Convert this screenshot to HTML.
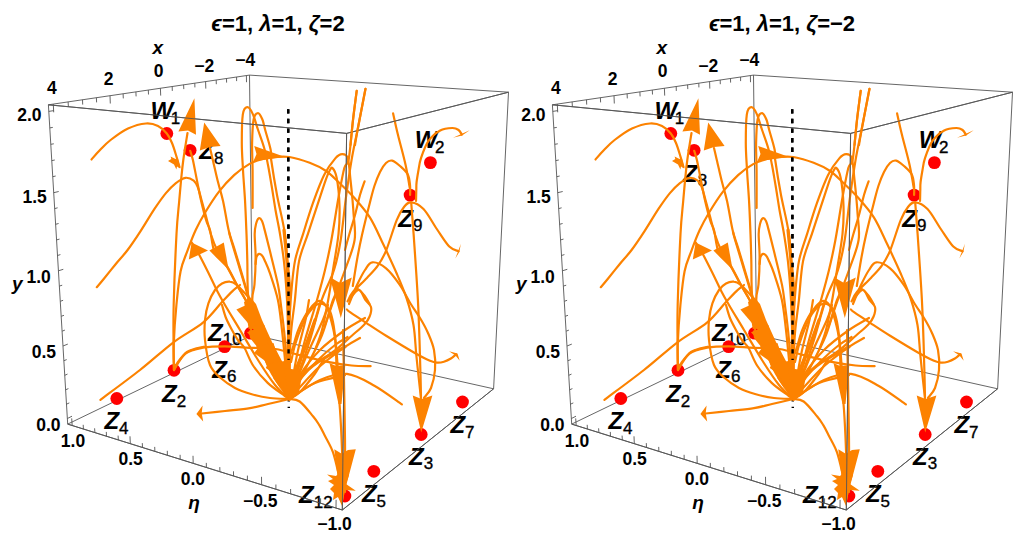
<!DOCTYPE html>
<html><head><meta charset="utf-8"><style>
html,body{margin:0;padding:0;background:#fff;}
svg{display:block;}
.e{stroke:#555;stroke-width:0.9;}
.t{stroke:#555;stroke-width:0.9;}
text{font-family:"Liberation Sans",sans-serif;fill:#000;}
.tl{font-size:17.5px;font-weight:bold;text-anchor:middle;}
.tr{font-size:17.5px;font-weight:bold;text-anchor:end;}
.al{font-size:19px;font-weight:bold;font-style:italic;text-anchor:middle;}
.ti{font-size:22px;font-weight:bold;text-anchor:middle;}
.o{fill:none;stroke:#FC8200;stroke-width:2.2;stroke-linecap:round;stroke-linejoin:round;}
.ah{fill:#FC8200;}
.rd{fill:#FF0000;}
.dash{stroke:#000;stroke-width:2.4;stroke-dasharray:4.4 5.2;}
.pl{font-size:24px;font-weight:bold;font-style:italic;}
.ps{font-size:17px;font-style:normal;font-weight:normal;stroke:#000;stroke-width:0.35px;}
</style></head><body>
<svg width="1024" height="539" viewBox="0 0 1024 539">
<g>
<line x1="48.4" y1="104.8" x2="249.5" y2="75.1" class="e"/>
<line x1="249.5" y1="75.1" x2="508.5" y2="92.2" class="e"/>
<line x1="508.5" y1="92.2" x2="346.6" y2="133.4" class="e"/>
<line x1="346.6" y1="133.4" x2="48.4" y2="104.8" class="e"/>
<line x1="48.4" y1="104.8" x2="67.7" y2="424.1" class="e"/>
<line x1="249.5" y1="75.1" x2="252.6" y2="334.9" class="e"/>
<line x1="508.5" y1="92.2" x2="493.6" y2="388.8" class="e"/>
<line x1="346.6" y1="133.4" x2="342.3" y2="510" class="e"/>
<line x1="67.7" y1="424.1" x2="342.3" y2="510" class="e"/>
<line x1="342.3" y1="510" x2="493.6" y2="388.8" class="e"/>
<line x1="493.6" y1="388.8" x2="252.6" y2="334.9" class="e"/>
<line x1="252.6" y1="334.9" x2="67.7" y2="424.1" class="e"/>
<line x1="53.3" y1="104.1" x2="53.7" y2="112.3" class="t"/>
<line x1="68.1" y1="101.9" x2="68.4" y2="106.8" class="t"/>
<line x1="82.5" y1="99.8" x2="82.7" y2="104.6" class="t"/>
<line x1="96.4" y1="97.7" x2="96.6" y2="102.4" class="t"/>
<line x1="110" y1="95.7" x2="110.3" y2="103.5" class="t"/>
<line x1="123.1" y1="93.8" x2="123.3" y2="98.4" class="t"/>
<line x1="135.9" y1="91.9" x2="136.1" y2="96.4" class="t"/>
<line x1="148.3" y1="90" x2="148.5" y2="94.5" class="t"/>
<line x1="160.4" y1="88.2" x2="160.7" y2="95.6" class="t"/>
<line x1="172.2" y1="86.5" x2="172.3" y2="90.9" class="t"/>
<line x1="183.6" y1="84.8" x2="183.8" y2="89.1" class="t"/>
<line x1="194.8" y1="83.2" x2="194.9" y2="87.4" class="t"/>
<line x1="205.6" y1="81.6" x2="205.8" y2="88.6" class="t"/>
<line x1="216.2" y1="80" x2="216.3" y2="84.2" class="t"/>
<line x1="226.5" y1="78.5" x2="226.6" y2="82.6" class="t"/>
<line x1="236.6" y1="77" x2="236.6" y2="81.1" class="t"/>
<line x1="246.4" y1="75.6" x2="246.5" y2="82.2" class="t"/>
<line x1="67.4" y1="418.5" x2="72" y2="416.2" class="t"/>
<line x1="66.5" y1="404.2" x2="69.3" y2="402.9" class="t"/>
<line x1="65.6" y1="389.8" x2="68.4" y2="388.6" class="t"/>
<line x1="64.8" y1="375.3" x2="67.5" y2="374.1" class="t"/>
<line x1="63.9" y1="360.7" x2="66.7" y2="359.6" class="t"/>
<line x1="63" y1="346" x2="67.8" y2="344.1" class="t"/>
<line x1="62.1" y1="331.2" x2="64.9" y2="330.1" class="t"/>
<line x1="61.2" y1="316.3" x2="64" y2="315.3" class="t"/>
<line x1="60.3" y1="301.3" x2="63.1" y2="300.3" class="t"/>
<line x1="59.4" y1="286.1" x2="62.2" y2="285.2" class="t"/>
<line x1="58.4" y1="270.8" x2="63.3" y2="269.3" class="t"/>
<line x1="57.5" y1="255.5" x2="60.4" y2="254.6" class="t"/>
<line x1="56.6" y1="239.9" x2="59.5" y2="239.1" class="t"/>
<line x1="55.6" y1="224.3" x2="58.6" y2="223.5" class="t"/>
<line x1="54.7" y1="208.6" x2="57.6" y2="207.8" class="t"/>
<line x1="53.7" y1="192.7" x2="58.7" y2="191.5" class="t"/>
<line x1="52.8" y1="176.7" x2="55.7" y2="176" class="t"/>
<line x1="51.8" y1="160.6" x2="54.8" y2="160" class="t"/>
<line x1="50.8" y1="144.3" x2="53.8" y2="143.8" class="t"/>
<line x1="49.8" y1="127.9" x2="52.8" y2="127.4" class="t"/>
<line x1="48.8" y1="111.4" x2="53.9" y2="110.6" class="t"/>
<line x1="72.2" y1="425.5" x2="71.7" y2="418.4" class="t"/>
<line x1="83.4" y1="429.1" x2="83.2" y2="424.8" class="t"/>
<line x1="94.9" y1="432.6" x2="94.6" y2="428.3" class="t"/>
<line x1="106.5" y1="436.3" x2="106.3" y2="431.9" class="t"/>
<line x1="118.3" y1="440" x2="118.1" y2="435.6" class="t"/>
<line x1="130.3" y1="443.7" x2="130" y2="436.3" class="t"/>
<line x1="142.5" y1="447.5" x2="142.3" y2="443.1" class="t"/>
<line x1="154.9" y1="451.4" x2="154.7" y2="446.9" class="t"/>
<line x1="167.4" y1="455.3" x2="167.3" y2="450.8" class="t"/>
<line x1="180.2" y1="459.3" x2="180.1" y2="454.8" class="t"/>
<line x1="193.2" y1="463.4" x2="193" y2="455.8" class="t"/>
<line x1="206.4" y1="467.5" x2="206.3" y2="462.9" class="t"/>
<line x1="219.9" y1="471.7" x2="219.8" y2="467.1" class="t"/>
<line x1="233.5" y1="476" x2="233.5" y2="471.3" class="t"/>
<line x1="247.4" y1="480.3" x2="247.4" y2="475.6" class="t"/>
<line x1="261.6" y1="484.8" x2="261.5" y2="476.8" class="t"/>
<line x1="275.9" y1="489.3" x2="275.9" y2="484.5" class="t"/>
<line x1="290.6" y1="493.8" x2="290.6" y2="489" class="t"/>
<line x1="305.5" y1="498.5" x2="305.5" y2="493.6" class="t"/>
<line x1="320.6" y1="503.2" x2="320.6" y2="498.3" class="t"/>
<line x1="336" y1="508" x2="336.1" y2="499.8" class="t"/>
<text x="51.8" y="93.8" class="tl">4</text>
<text x="108.7" y="85.2" class="tl">2</text>
<text x="158.6" y="77.4" class="tl">0</text>
<text x="204.3" y="71.6" class="tl">−2</text>
<text x="245.2" y="65.8" class="tl">−4</text>
<text x="157.7" y="54.3" class="al">x</text>
<text x="41.5" y="121" class="tr">2.0</text>
<text x="46.8" y="202.7" class="tr">1.5</text>
<text x="50.8" y="282.5" class="tr">1.0</text>
<text x="56.1" y="357.6" class="tr">0.5</text>
<text x="60.6" y="431.4" class="tr">0.0</text>
<text x="17.2" y="290" class="al">y</text>
<text x="73" y="447.2" class="tl">1.0</text>
<text x="130.6" y="465.4" class="tl">0.5</text>
<text x="192.9" y="485.2" class="tl">0.0</text>
<text x="260.2" y="506.7" class="tl">−0.5</text>
<text x="334.5" y="529.7" class="tl">−1.0</text>
<text x="194" y="509" class="al">η</text>
<text x="150.6" y="119.2" class="pl">W<tspan class="ps" dy="4.4" dx="-2.5">1</tspan></text>
<text x="162.1" y="402.3" class="pl">Z<tspan class="ps" dy="4.4">2</tspan></text>
<text x="104.4" y="429.3" class="pl">Z<tspan class="ps" dy="4.4">4</tspan></text>
<text x="208.1" y="340.8" class="pl">Z<tspan class="ps" dy="4.4">10</tspan></text>
<text x="212.3" y="377.7" class="pl">Z<tspan class="ps" dy="4.4">6</tspan></text>
<text x="414.8" y="148.3" class="pl">W<tspan class="ps" dy="4.4" dx="-2.5">2</tspan></text>
<text x="398.3" y="226.7" class="pl">Z<tspan class="ps" dy="4.4">9</tspan></text>
<text x="409.1" y="464.9" class="pl">Z<tspan class="ps" dy="4.4">3</tspan></text>
<text x="450.4" y="433.4" class="pl">Z<tspan class="ps" dy="4.4">7</tspan></text>
<text x="361.9" y="502.3" class="pl">Z<tspan class="ps" dy="4.4">5</tspan></text>
<text x="299" y="503.3" class="pl">Z<tspan class="ps" dy="4.4">12</tspan></text>
<text x="199.3" y="159.2" class="pl">Z<tspan class="ps" dy="4.4">8</tspan></text>
<circle cx="166.8" cy="133.5" r="6.4" class="rd"/>
<circle cx="190.1" cy="150.3" r="6.4" class="rd"/>
<circle cx="174" cy="370.3" r="6.4" class="rd"/>
<circle cx="116.8" cy="398.5" r="6.4" class="rd"/>
<circle cx="224.6" cy="346.7" r="6.4" class="rd"/>
<circle cx="250.6" cy="333.2" r="6.4" class="rd"/>
<circle cx="410.1" cy="195.1" r="6.4" class="rd"/>
<circle cx="430.4" cy="162.6" r="6.4" class="rd"/>
<circle cx="421.2" cy="434.5" r="6.4" class="rd"/>
<circle cx="462.5" cy="402" r="6.4" class="rd"/>
<circle cx="373.8" cy="471.3" r="6.4" class="rd"/>
<circle cx="344.9" cy="496" r="6.4" class="rd"/>
<line x1="288.2" y1="109.2" x2="288.8" y2="408" class="dash"/>
<path d="M91.5,159.5 C92.9,157.9 96.8,153.2 100,150 C103.2,146.8 105.9,143.6 110.6,140 C115.3,136.4 122.1,131.2 128,128.5 C133.9,125.8 141,123.9 146,123.5 C151,123.1 154.5,124.3 158,126 C161.5,127.7 164.5,130.7 166.8,133.5 C169.1,136.3 170.5,139.4 172,143 C173.5,146.6 174.8,151 176,155 C177.2,159 178.9,165 179.5,167" class="o"/>
<path d="M174,370 C173.9,366 173.7,357 173.6,346 C173.5,335 173.2,322.7 173.7,304 C174.2,285.3 175.6,251.1 176.5,234 C177.4,216.9 178.4,210.6 179.2,201.2 C180,191.8 180.6,184.7 181.3,177.8 C182,170.9 182.3,167.5 183.3,160 C184.3,152.5 186.8,137.5 187.5,133" class="o"/>
<path d="M96.8,287.2 C97.9,285.9 100.3,283.2 103.3,279.5 C106.3,275.8 111,269.9 115,265 C119,260.1 123.3,255.7 127.6,250 C131.9,244.3 136.4,237.5 140.9,230.6 C145.4,223.7 150.6,214.7 154.8,208.4 C159,202.2 162.4,197.3 165.9,193.1 C169.4,188.9 172.3,185.9 175.6,183.3 C178.8,180.8 182.4,178.2 185.4,177.8 C188.4,177.4 191.6,179 193.7,180.6 C195.8,182.2 196.6,184.3 197.9,187.5 C199.2,190.7 200,194.8 201.5,200 C203,205.2 205.1,213.3 206.7,219 C208.2,224.7 209.1,228.8 210.8,234 C212.5,239.2 214.5,244.8 217,250 C219.5,255.2 222.7,259.2 226,265 C229.3,270.8 233.4,278.5 237,285 C240.6,291.5 244.3,297.3 247.8,304 C251.3,310.7 254.6,317.3 258,325 C261.4,332.7 264.3,340.8 268,350 C271.7,359.2 276.4,371.8 280,380 C283.6,388.2 287.8,395.8 289.4,399" class="o"/>
<path d="M190.2,150.8 C190.6,152.3 191.8,155 192.9,160 C194,165 195.6,173.7 197,180.6 C198.4,187.5 199.6,194.3 201.2,201.2 C202.8,208.1 205.2,217.2 206.7,222 C208.2,226.8 208.6,224.8 210,230 C211.4,235.2 212.2,247.6 214.9,253.3 C217.6,259 222.2,259 225.9,264.3 C229.6,269.6 233.2,278.3 236.9,284.9 C240.6,291.5 244,296.5 247.8,304 C251.7,311.5 256,321 260,330 C264,339 268.2,348.3 272,358 C275.8,367.7 280.1,381.2 283,388 C285.9,394.8 288.3,397.2 289.4,399" class="o"/>
<path d="M210,148 C210.5,150 211.5,154.6 212.8,160 C214.1,165.4 215.9,173.7 217.6,180.6 C219.3,187.5 221.3,193 223.1,201.2 C224.9,209.4 226.8,222.2 228.6,230 C230.4,237.8 231.8,240.2 234.1,247.8 C236.4,255.4 239.8,266.8 242.3,275.3 C244.8,283.8 246.6,290.3 249.2,298.6 C251.8,306.9 254.9,316.1 258,325 C261.1,333.9 264.3,342.8 268,352 C271.7,361.2 276.4,372.2 280,380 C283.6,387.8 287.8,395.8 289.4,399" class="o"/>
<path d="M174,370 C173.9,365.8 173.3,356 173.7,345 C174.1,334 175.3,316.3 176.5,304 C177.7,291.7 178.8,280.1 180.6,271.2 C182.4,262.3 185,257.5 187.5,250.6 C190,243.7 192.7,236.4 195.7,230 C198.7,223.6 201.4,218.6 205.3,212.2 C209.2,205.8 214.2,197.8 219,191.6 C223.8,185.4 229.1,179.7 234.1,175.1 C239.1,170.5 244.4,166.8 249.2,164.1 C254,161.4 258.7,160.2 263,159 C267.3,157.8 270.6,157.3 275,157 C279.4,156.7 283.6,156 289.4,157 C295.2,158 303.6,160.5 309.7,162.8 C315.8,165.1 321.1,167.6 326.1,171 C331.1,174.4 335.2,179 339.8,183.3 C344.4,187.7 348.5,191.4 353.5,197.1 C358.5,202.8 365,209.7 370,217.6 C375,225.5 378.9,235.3 383.4,244.6 C387.8,253.9 392.8,264.5 396.7,273.5 C400.6,282.5 403.9,290 406.7,298.6 C409.5,307.2 411.9,315.6 413.5,325 C415.1,334.4 415.3,344.7 416.3,354.9 C417.3,365.1 418.8,378.8 419.6,386 C420.4,393.2 420.8,396 421,398" class="o"/>
<path d="M191.6,242.4 C192.7,244.2 195.7,248.4 198.4,253.3 C201.1,258.2 204.8,265.6 208,272 C211.2,278.4 214.8,286.3 217.6,291.8 C220.4,297.3 221.3,298.6 225,305 C228.7,311.4 234.5,320.8 240,330 C245.5,339.2 252.2,350.8 258,360 C263.8,369.2 269.8,378.5 275,385 C280.2,391.5 287,396.7 289.4,399" class="o"/>
<path d="M289.4,399 C286.2,394.2 275.7,381.5 270,370 C264.3,358.5 258.6,341.7 255,330 C251.4,318.3 249.7,311.7 248.4,300 C247.1,288.3 247.6,271 247.3,260 C247,249 246.9,244 246.5,234 C246.1,224 245.6,210.7 245,200 C244.4,189.3 243.5,179.5 243,170 C242.5,160.5 241.8,152.2 241.8,143 C241.8,133.8 241.9,120.6 242.8,114.6 C243.7,108.6 245.6,107.4 247.2,107.2 C248.8,107 250.8,109.8 252.6,113.6 C254.4,117.4 256.1,124.1 258.1,130 C260.1,135.9 262.8,142.9 264.4,148.8 C266,154.6 266.8,159 268,165 C269.2,171 270.2,177.5 271.5,185 C272.8,192.5 274.1,201.8 275.5,210 C276.9,218.2 278.6,225.3 280,234 C281.4,242.7 282.8,251 284,262 C285.2,273 286.2,285.3 287,300 C287.8,314.7 288.1,333.5 288.5,350 C288.9,366.5 289.2,390.8 289.4,399" class="o"/>
<path d="M252.6,208 C252.6,201.7 252.7,180.8 252.6,170 C252.5,159.2 251.9,151.4 252.1,143 C252.3,134.6 252.6,124.5 253.6,119.5 C254.6,114.5 256.5,113.1 258,113.1 C259.5,113.1 261.2,116.7 262.4,119.5 C263.6,122.3 263.8,125 265.2,130 C266.6,135 269.6,144.5 270.6,149.5 C271.6,154.5 270.1,152.4 271.2,160 C272.3,167.6 274.7,182.7 277,195 C279.3,207.3 283.2,221.5 284.9,234 C286.6,246.5 286.4,254 287,270 C287.6,286 288.1,308.5 288.5,330 C288.9,351.5 289.2,387.5 289.4,399" class="o"/>
<path d="M289.4,399 C285.8,393.3 273.6,376.5 268,365 C262.4,353.5 258.6,340.8 256,330 C253.4,319.2 252.6,307.6 252.3,300 C252.1,292.4 253.9,291.7 254.5,284.5 C255.1,277.3 255.6,265.1 255.6,256.7 C255.6,248.3 254.6,239.4 254.7,234 C254.8,228.6 255.3,226.6 256,224 C256.7,221.4 257.8,218.8 258.8,218.3 C259.8,217.8 261.1,219.3 262,221 C262.9,222.7 263,223.7 264.3,228.6 C265.6,233.5 267.5,241.2 269.8,250.6 C272.1,260 276.2,276 278,284.9 C279.8,293.8 279.6,294.8 280.8,304 C282,313.2 283.6,324.2 285,340 C286.4,355.8 288.7,389.2 289.4,399" class="o"/>
<path d="M255.6,264 C255.8,262.8 255.9,258.7 256.5,257 C257.1,255.3 258.1,254.2 259,253.9 C259.9,253.7 261.1,254.5 262,255.5 C262.9,256.5 263.2,257 264.5,260 C265.8,263 267.8,266.7 270,273.4 C272.2,280.1 275.9,290.6 277.9,300 C279.9,309.4 280.6,318.3 282,330 C283.4,341.7 284.8,358.5 286,370 C287.2,381.5 288.8,394.2 289.4,399" class="o"/>
<path d="M289.4,399 C286.2,398.8 276.4,398.8 270,398 C263.6,397.2 256.8,395.7 251,394 C245.2,392.3 240.1,390.7 235,388 C229.9,385.3 224.6,381.6 220.4,377.8 C216.2,374 212.6,371.3 210,365 C207.4,358.7 205.8,347.5 205,340 C204.2,332.5 204.4,326.1 205,320 C205.6,313.9 206.7,308.4 208.4,303.4 C210.1,298.4 212.7,293.3 215,290 C217.3,286.7 219.5,284.9 222,283.5 C224.5,282.1 227.5,281.4 230,281.7 C232.5,281.9 234.6,283.3 236.8,285 C239.1,286.7 241.3,289.2 243.5,291.7 C245.7,294.2 247.6,295.3 250,300 C252.4,304.7 254.3,311.7 258,320 C261.7,328.3 267.8,340 272,350 C276.2,360 280.1,371.8 283,380 C285.9,388.2 288.3,395.8 289.4,399" class="o"/>
<path d="M356.7,90.8 C356.1,95.7 354.3,108.7 353,120 C351.7,131.3 350.2,150.7 348.8,158.7 C347.4,166.7 346.1,161.6 344.4,167.8 C342.7,174 341,183.7 338.8,195.7 C336.6,207.7 333.7,227.6 331.4,240 C329.1,252.4 327.4,260 325,270 C322.6,280 320.3,288.3 317,300 C313.7,311.7 308.7,326.7 305,340 C301.3,353.3 297.6,370.2 295,380 C292.4,389.8 290.3,395.8 289.4,399" class="o"/>
<path d="M365.5,88.8 C364.2,95.5 360,117.6 357.7,129.2 C355.4,140.8 353.7,147.5 351.8,158.6 C349.9,169.7 348.1,182.1 346.2,195.7 C344.3,209.3 342.7,227.6 340.7,240 C338.7,252.4 337.2,260 334,270 C330.8,280 325.7,288.3 321.7,300 C317.7,311.7 313.9,327.5 310,340 C306.1,352.5 301.4,365.2 298,375 C294.6,384.8 290.8,395 289.4,399" class="o"/>
<path d="M347.6,301.4 C348.5,299.8 349.9,295.7 353.1,291.8 C356.3,287.9 362.8,282.4 366.9,278 C371,273.6 374.6,270.3 377.8,265.7 C381,261.1 383,258.2 386.1,250.6 C389.2,243 393.7,227.4 396.7,220.1 C399.7,212.8 401.6,210 404,207 C406.4,204 407.9,202 411.2,202.3 C414.4,202.6 419.2,204.6 423.5,209 C427.8,213.4 432.5,222.7 436.8,229 C441.1,235.3 445.7,242.9 449.3,246.6 C452.9,250.3 457,250.4 458.5,251.2" class="o"/>
<path d="M411.2,202.3 C411.8,209.7 413.4,230.5 414.5,246.8 C415.6,263.1 417.1,284.5 417.9,300 C418.7,315.5 419.1,327.5 419.5,340 C419.9,352.5 420.2,365.3 420.5,375 C420.8,384.7 420.9,394.2 421,398" class="o"/>
<path d="M393.1,113.4 C393.9,117 395.9,126.4 398,135 C400.1,143.6 403.6,155.8 405.6,165 C407.6,174.2 409.4,185.8 410.1,190" class="o"/>
<path d="M416,201 C416.1,199.2 416.2,193.2 416.3,190 C416.4,186.8 416.2,185.3 416.6,182 C417,178.7 417.8,174 418.5,170 C419.2,166 419.4,163 421,158.2 C422.6,153.4 425,145.9 428.2,141.3 C431.4,136.7 436.2,132.7 440.2,130.5 C444.2,128.3 449.2,128.1 452.3,128 C455.4,127.9 457,128.9 458.6,130 C460.2,131.1 461.3,133.8 461.8,134.5" class="o"/>
<path d="M289.4,399 C285.8,399.8 274.6,402.5 268,404 C261.4,405.5 257.2,407 250,408.2 C242.8,409.4 233.1,410.1 225,411 C216.9,411.9 205.6,413.1 201.7,413.5" class="o"/>
<path d="M174,370 C175.9,367.3 180.6,357.3 185.4,353.6 C190.2,349.9 196.6,348.9 203.1,347.7 C209.6,346.5 216.9,346.3 224.7,346.3 C232.5,346.3 241.6,347.4 250,347.8 C258.4,348.2 266.9,347.7 275.4,349 C283.9,350.3 292.3,353.3 300.8,355.4 C309.3,357.5 317.7,360 326.2,361.7 C334.7,363.4 344.2,364.8 351.6,365.5 C359,366.2 367.4,366.1 370.6,366.2" class="o"/>
<path d="M100.4,399.8 C107,394.8 127.8,379.6 140,370 C152.2,360.4 163,350.2 173.5,342.3 C184,334.4 194.9,329.3 203,322.6 C211.1,315.9 217.1,307.2 222,302 C226.9,296.8 229.5,293.9 232.5,291.1 C235.5,288.3 238.8,286 240,285" class="o"/>
<path d="M229,232 C229.3,233.3 229.6,234.9 231.1,240 C232.6,245.1 235.6,254.9 237.8,262.3 C240,269.7 242.6,278.2 244.5,284.5 C246.4,290.8 246.8,292.4 249,300 C251.2,307.6 254.2,320 258,330 C261.8,340 266.8,348.5 272,360 C277.2,371.5 286.5,392.5 289.4,399" class="o"/>
<path d="M289.4,399 C291.1,399.4 295.7,398.6 299.7,401.5 C303.7,404.4 309.9,412.6 313.2,416.5 C316.5,420.4 317.3,421.9 319.3,425.1 C321.3,428.4 322.7,431.4 325,436 C327.3,440.6 330.8,445.9 333.1,452.6 C335.4,459.3 337.5,469.4 339,476 C340.5,482.6 341.5,489.3 342,492" class="o"/>
<path d="M349,300 C350.6,298.3 355.9,289.8 358.7,289.8 C361.4,289.8 363.4,297.1 365.5,300 C367.6,302.9 370.3,304.1 371,306.9 C371.7,309.6 370.8,313.5 369.6,316.5 C368.5,319.5 367.1,321.5 364.1,324.7 C361.1,327.9 356.2,331.8 351.8,335.7 C347.4,339.6 342.6,344.1 338,348 C333.4,351.9 328.2,354.7 324.3,359 C320.4,363.3 318.8,368.5 314.7,374 C310.6,379.5 304.2,387.8 300,392 C295.8,396.2 291.2,397.8 289.4,399" class="o"/>
<path d="M346.9,309.5 C347.5,310 347.1,310.1 350.4,312.4 C353.7,314.7 360.9,319.4 366.9,323.3 C372.8,327.2 378.3,330.9 386.1,335.7 C393.9,340.5 406.2,348 413.5,352.2 C420.8,356.4 426.1,359.1 430,360.8 C433.9,362.5 434.7,362.5 437,362.6 C439.3,362.8 441.6,362.4 443.9,361.7 C446.2,361 448.9,359.7 450.9,358.5 C452.9,357.3 455.1,355 456,354.3" class="o"/>
<path d="M174,369.5 C174.7,368.2 175.8,364.9 178,362 C180.2,359.1 183.9,354.3 187,352 C190.1,349.7 193.8,349.3 196.6,348.4 C199.4,347.5 202.7,347 203.9,346.7" class="o"/>
<path d="M289.4,399 C294.5,395.8 310.4,384.2 320,380 C329.6,375.8 337.8,372.9 346.9,373.9 C356,374.8 365.2,380.6 374.4,385.7 C383.6,390.8 397.3,401.3 401.9,404.4" class="o"/>
<path d="M289.4,399 C289.6,389.2 289.6,356.5 290.5,340 C291.4,323.5 293.5,313.1 294.9,300 C296.3,286.9 296.8,272.5 299,261.4 C301.2,250.3 305,242.9 308,233.6 C311,224.3 314.3,214.5 317.2,205.7 C320.1,196.9 323.4,186.5 325.5,180.6 C327.6,174.7 328.5,172.6 329.7,170.5 C330.9,168.4 331.3,166.9 332.5,168.1 C333.7,169.3 335.5,171.6 336.7,177.9 C337.9,184.2 339.2,196.3 339.5,205.7 C339.8,215 339.6,223.3 338.5,234 C337.4,244.7 334.7,259 333,270 C331.3,281 330,290 328.2,300 C326.4,310 324.2,321.7 322,330 C319.8,338.3 316.2,346.7 315,350" class="o"/>
<path d="M289.4,399 C289.3,389.2 288.8,356.5 289,340 C289.2,323.5 289.7,313.1 290.7,300 C291.7,286.9 292.8,272.5 294.9,261.4 C297,250.3 300.2,243.3 303.2,233.6 C306.2,223.8 309.5,212.7 313,202.9 C316.5,193.1 320.4,182.4 324.1,175 C327.8,167.6 332.3,161.9 335.3,158.4 C338.3,154.9 340.1,154.2 342.2,154.2 C344.3,154.2 346.4,154.1 347.8,158.4 C349.2,162.7 349.7,173.1 350.5,180 C351.3,186.9 352,194.3 352.5,200 C353,205.7 353.2,207.5 353.6,214.2 C354,220.9 356,230.7 354.6,240 C353.2,249.3 348.5,260 345,270 C341.5,280 337.1,290.8 333.8,300 C330.5,309.2 326.5,320.8 325,325" class="o"/>
<path d="M349,304 C350.3,300.8 354.3,290.7 357,285 C359.7,279.3 362.4,273.8 365,270 C367.6,266.2 368.9,262.6 372.4,262.3 C375.9,262 381.5,264.6 386.1,268.4 C390.7,272.2 395.7,279 399.8,284.9 C403.9,290.8 407.4,298.5 410.8,304 C414.2,309.5 417.1,313.2 420,318 C422.9,322.8 425.7,327.7 428,333 C430.3,338.3 432.8,343.8 434,350 C435.2,356.2 435.5,363.7 435,370 C434.5,376.3 432.8,383.3 431,388 C429.2,392.7 425.2,396.3 424,398" class="o"/>
<path d="M290,355 C290.4,353.8 291.3,352.1 292.7,348 C294.1,343.9 295.9,335.9 298.2,330.2 C300.5,324.5 303.3,318.5 306.5,313.7 C309.7,308.9 314.2,302.8 317.4,301.4 C320.6,300 323.4,302.3 325.7,305.5 C328,308.7 329.6,314.7 331.2,320.6 C332.8,326.6 334.4,332.3 335.3,341.2 C336.2,350.1 336.5,368.5 336.7,374" class="o"/>
<path d="M351.8,295.9 C352.7,294.8 355.3,289.1 357.3,289 C359.3,288.9 361.9,292.5 364,295 C366.1,297.5 368.7,302.5 369.6,304" class="o"/>
<path d="M289.4,399 C291.2,395.8 295.2,386.5 300,380 C304.8,373.5 312.2,365.8 318,360 C323.8,354.2 330.1,348.8 335,345 C339.9,341.2 345.5,338.3 347.6,337" class="o"/>
<path d="M289.4,399 C292,394.2 299.6,380.7 305,370 C310.4,359.3 317.3,346.7 322,335 C326.7,323.3 329.9,308.3 333,300 C336.1,291.7 339.5,287.5 340.8,285" class="o"/>
<path d="M289.4,399 C291.2,395 294.9,383.2 300,375 C305.1,366.8 312.5,357.5 320,350 C327.5,342.5 337.5,335.3 345,330 C352.5,324.7 361.7,320 365,318" class="o"/>
<path d="M336.7,374 C337.2,380 339.1,397.3 340,410 C340.9,422.7 341.5,436.3 342,450 C342.5,463.7 342.8,485 343,492" class="o"/>
<path d="M343,330 C343.2,338.3 343.7,361.7 344,380 C344.3,398.3 344.8,421.3 345,440 C345.2,458.7 345,483.3 345,492" class="o"/>
<path d="M352.8,286 C353.5,281.7 355.5,268.5 357,260 C358.5,251.5 359.8,244.6 362,235 C364.2,225.4 367.9,210.5 370,202.3 C372.1,194.1 372.7,191.1 374.4,186 C376.1,180.9 378.1,175.8 380,172 C381.9,168.2 384,164.9 386,163 C388,161.1 389.8,160.1 392.1,160.6 C394.4,161.1 397.4,163.7 400,166 C402.6,168.3 406.1,171.2 407.8,174.4 C409.5,177.6 409.6,181.6 410,185 C410.4,188.4 410.1,193.3 410.1,195" class="o"/>
<path d="M364.6,181.3 C363.8,183.6 361.6,189.4 360,195 C358.4,200.6 356.8,208.5 355,215 C353.2,221.5 351.1,228.2 349.4,234 C347.7,239.8 345.7,247.3 345,250" class="o"/>
<path d="M289.4,399 C290.7,391.7 294.3,368.2 297,355 C299.7,341.8 303.5,329.2 305.5,320 C307.5,310.8 308.4,303.3 309,300" class="o"/>
<path d="M289.4,399 C291.5,392 297.7,370.2 302,357 C306.3,343.8 312,329 315,320 C318,311 319.2,305.8 320,303" class="o"/>
<path d="M289.4,399 C292.2,392 300.4,370.2 306,357 C311.6,343.8 319.2,328.7 322.9,320 C326.6,311.3 327.1,307.5 328,305" class="o"/>
<path d="M289.4,399 C294.2,393.8 308.7,376.7 318,368 C327.3,359.3 338,351.9 345,346.9 C352,341.9 357.5,339.5 360,338" class="o"/>
<path d="M289.4,399 C293.7,396.3 305.7,386.9 315,383 C324.3,379.1 340,376.6 345,375.3" class="o"/>
<path d="M291,362 C291.7,359.2 293.3,350.7 295,345 C296.7,339.3 298.8,333.2 301,328 C303.2,322.8 305.5,317.8 308,314 C310.5,310.2 313.5,306.7 316,305 C318.5,303.3 320.6,303.3 322.8,304 C325,304.7 327.3,306 329,309 C330.7,312 331.8,316 333,322 C334.2,328 335.2,336.7 336,345 C336.8,353.3 337.7,367.5 338,372" class="o"/>
<path d="M222,305 C222.7,307.2 224.3,313.8 226,318 C227.7,322.2 230,326.3 232,330 C234,333.7 235.8,337 237.9,340 C240,343 241.8,343.5 244.4,347.8 C247,352.1 249.5,360.1 253.4,366 C257.3,371.9 262.5,377.9 267.7,382.9 C272.9,387.9 281,393.1 284.6,395.8 C288.2,398.5 288.6,398.5 289.4,399" class="o"/>
<path d="M289.4,399 C291.2,395.5 295.2,384.2 300,378 C304.8,371.8 310.5,367.2 318,362 C325.5,356.8 340.5,349.4 345,346.9" class="o" style="stroke-width:3.2"/>
<path d="M289.4,399 C290.5,394.2 293.2,379 296,370 C298.8,361 302.8,353.3 306,345 C309.2,336.7 313.5,324.2 315,320" class="o" style="stroke-width:3.2"/>
<path d="M284,230 C284.3,233.3 285.3,243.3 286,250 C286.7,256.7 287.4,263.3 288,270 C288.6,276.7 289.3,281.7 289.5,290 C289.7,298.3 289.2,308.3 289,320 C288.8,331.7 287.9,346.8 288,360 C288.1,373.2 289.2,392.5 289.4,399" class="o" style="stroke-width:3.2"/>
<polygon points="244,302 250,297 256,304 262,320 272,342 284,365 296,385 289.5,401 284.6,392 280,388 273,377.7 276,375 265.8,367.9 268,363 254.1,353 258,348 250,338 247,318" class="ah"/>
<path d="M246,331 L250,329.5 M252.5,329 L256,333" style="stroke:#f00;stroke-width:1.6;fill:none"/>
<polygon points="194.4,98.2 178.4,131.6 188,130.5 196,134.8" class="ah"/>
<polygon points="204.2,122.5 199.8,150.5 210,147 220.6,146.1" class="ah"/>
<polygon points="285.1,157 254.2,146 256.5,154 253.4,161.3" class="ah"/>
<polygon points="191.6,242.4 188.8,259.5 208,250.6" class="ah"/>
<polygon points="209.4,250.6 223.8,242.4 228.6,269.8" class="ah"/>
<polygon points="412.7,395.6 421.6,399 432.4,395.6 421.2,432.5" class="ah"/>
<polygon points="168,161.1 171.3,159 170.6,156.5 175.5,159 178,159 180.5,168.5 177,166.5 176.4,169.5 174,164.5" class="ah"/>
<polygon points="453,137.7 469.7,130.3 462,135.6" class="ah"/>
<polygon points="455.3,258.6 460.9,243.8 459.3,252" class="ah"/>
<polygon points="449,351.3 457.5,353.5 459.7,360.8 455.5,355.5" class="ah"/>
<polygon points="196.4,414 202.6,405.5 201.7,413.3 203.2,421.4" class="ah"/>
<polygon points="329.8,277 340,283 351.8,277.4 340.8,318" class="ah"/>
<polygon points="236.4,309.4 252.3,302.3 255.8,332.3" class="ah"/>
<polygon points="247,332.3 264.6,325.2 270,357" class="ah"/>
<polygon points="255.8,346.4 273.5,342.9 284,378.1" class="ah"/>
<polygon points="266.4,364 287.6,360.5 289.3,395.8" class="ah"/>
<polygon points="284,368 298,370 302,376 299,392 289.5,401" class="ah"/>
<polygon points="334.3,449.3 341.7,453.7 348,450 355.8,449.3 345,490 342.4,504.2 338,480" class="ah"/>
<polygon points="327,474.5 336,476 340,472 349,475 346,484 355.8,490.8 345,490 342,506 338,497 333,500 334,493 330,489 334,485 328,481 333,479" class="ah"/>
<polygon points="329.5,363 336,366 345.3,365 341.5,404 338.5,404" class="ah"/>
<line x1="288.2" y1="109.2" x2="288.6" y2="360" class="dash"/>
<line x1="346.6" y1="133.4" x2="48.4" y2="104.8" class="e"/>
<line x1="346.6" y1="133.4" x2="508.5" y2="92.2" class="e"/>
<line x1="346.6" y1="133.4" x2="342.3" y2="510" class="e"/>
<line x1="67.7" y1="424.1" x2="342.3" y2="510" class="e"/>
<line x1="342.3" y1="510" x2="493.6" y2="388.8" class="e"/>
<path d="M356.7,90.8 C356.1,95.7 354,111 353,120 C352,129 350.9,140.8 350.5,145" class="o"/>
<path d="M365.5,88.8 C364.2,95.5 359.4,119.8 357.7,129.2 C355.9,138.6 355.4,142.4 355,145" class="o"/>
</g>
<g transform="translate(504,0)">
<line x1="48.4" y1="104.8" x2="249.5" y2="75.1" class="e"/>
<line x1="249.5" y1="75.1" x2="508.5" y2="92.2" class="e"/>
<line x1="508.5" y1="92.2" x2="346.6" y2="133.4" class="e"/>
<line x1="346.6" y1="133.4" x2="48.4" y2="104.8" class="e"/>
<line x1="48.4" y1="104.8" x2="67.7" y2="424.1" class="e"/>
<line x1="249.5" y1="75.1" x2="252.6" y2="334.9" class="e"/>
<line x1="508.5" y1="92.2" x2="493.6" y2="388.8" class="e"/>
<line x1="346.6" y1="133.4" x2="342.3" y2="510" class="e"/>
<line x1="67.7" y1="424.1" x2="342.3" y2="510" class="e"/>
<line x1="342.3" y1="510" x2="493.6" y2="388.8" class="e"/>
<line x1="493.6" y1="388.8" x2="252.6" y2="334.9" class="e"/>
<line x1="252.6" y1="334.9" x2="67.7" y2="424.1" class="e"/>
<line x1="53.3" y1="104.1" x2="53.7" y2="112.3" class="t"/>
<line x1="68.1" y1="101.9" x2="68.4" y2="106.8" class="t"/>
<line x1="82.5" y1="99.8" x2="82.7" y2="104.6" class="t"/>
<line x1="96.4" y1="97.7" x2="96.6" y2="102.4" class="t"/>
<line x1="110" y1="95.7" x2="110.3" y2="103.5" class="t"/>
<line x1="123.1" y1="93.8" x2="123.3" y2="98.4" class="t"/>
<line x1="135.9" y1="91.9" x2="136.1" y2="96.4" class="t"/>
<line x1="148.3" y1="90" x2="148.5" y2="94.5" class="t"/>
<line x1="160.4" y1="88.2" x2="160.7" y2="95.6" class="t"/>
<line x1="172.2" y1="86.5" x2="172.3" y2="90.9" class="t"/>
<line x1="183.6" y1="84.8" x2="183.8" y2="89.1" class="t"/>
<line x1="194.8" y1="83.2" x2="194.9" y2="87.4" class="t"/>
<line x1="205.6" y1="81.6" x2="205.8" y2="88.6" class="t"/>
<line x1="216.2" y1="80" x2="216.3" y2="84.2" class="t"/>
<line x1="226.5" y1="78.5" x2="226.6" y2="82.6" class="t"/>
<line x1="236.6" y1="77" x2="236.6" y2="81.1" class="t"/>
<line x1="246.4" y1="75.6" x2="246.5" y2="82.2" class="t"/>
<line x1="67.4" y1="418.5" x2="72" y2="416.2" class="t"/>
<line x1="66.5" y1="404.2" x2="69.3" y2="402.9" class="t"/>
<line x1="65.6" y1="389.8" x2="68.4" y2="388.6" class="t"/>
<line x1="64.8" y1="375.3" x2="67.5" y2="374.1" class="t"/>
<line x1="63.9" y1="360.7" x2="66.7" y2="359.6" class="t"/>
<line x1="63" y1="346" x2="67.8" y2="344.1" class="t"/>
<line x1="62.1" y1="331.2" x2="64.9" y2="330.1" class="t"/>
<line x1="61.2" y1="316.3" x2="64" y2="315.3" class="t"/>
<line x1="60.3" y1="301.3" x2="63.1" y2="300.3" class="t"/>
<line x1="59.4" y1="286.1" x2="62.2" y2="285.2" class="t"/>
<line x1="58.4" y1="270.8" x2="63.3" y2="269.3" class="t"/>
<line x1="57.5" y1="255.5" x2="60.4" y2="254.6" class="t"/>
<line x1="56.6" y1="239.9" x2="59.5" y2="239.1" class="t"/>
<line x1="55.6" y1="224.3" x2="58.6" y2="223.5" class="t"/>
<line x1="54.7" y1="208.6" x2="57.6" y2="207.8" class="t"/>
<line x1="53.7" y1="192.7" x2="58.7" y2="191.5" class="t"/>
<line x1="52.8" y1="176.7" x2="55.7" y2="176" class="t"/>
<line x1="51.8" y1="160.6" x2="54.8" y2="160" class="t"/>
<line x1="50.8" y1="144.3" x2="53.8" y2="143.8" class="t"/>
<line x1="49.8" y1="127.9" x2="52.8" y2="127.4" class="t"/>
<line x1="48.8" y1="111.4" x2="53.9" y2="110.6" class="t"/>
<line x1="72.2" y1="425.5" x2="71.7" y2="418.4" class="t"/>
<line x1="83.4" y1="429.1" x2="83.2" y2="424.8" class="t"/>
<line x1="94.9" y1="432.6" x2="94.6" y2="428.3" class="t"/>
<line x1="106.5" y1="436.3" x2="106.3" y2="431.9" class="t"/>
<line x1="118.3" y1="440" x2="118.1" y2="435.6" class="t"/>
<line x1="130.3" y1="443.7" x2="130" y2="436.3" class="t"/>
<line x1="142.5" y1="447.5" x2="142.3" y2="443.1" class="t"/>
<line x1="154.9" y1="451.4" x2="154.7" y2="446.9" class="t"/>
<line x1="167.4" y1="455.3" x2="167.3" y2="450.8" class="t"/>
<line x1="180.2" y1="459.3" x2="180.1" y2="454.8" class="t"/>
<line x1="193.2" y1="463.4" x2="193" y2="455.8" class="t"/>
<line x1="206.4" y1="467.5" x2="206.3" y2="462.9" class="t"/>
<line x1="219.9" y1="471.7" x2="219.8" y2="467.1" class="t"/>
<line x1="233.5" y1="476" x2="233.5" y2="471.3" class="t"/>
<line x1="247.4" y1="480.3" x2="247.4" y2="475.6" class="t"/>
<line x1="261.6" y1="484.8" x2="261.5" y2="476.8" class="t"/>
<line x1="275.9" y1="489.3" x2="275.9" y2="484.5" class="t"/>
<line x1="290.6" y1="493.8" x2="290.6" y2="489" class="t"/>
<line x1="305.5" y1="498.5" x2="305.5" y2="493.6" class="t"/>
<line x1="320.6" y1="503.2" x2="320.6" y2="498.3" class="t"/>
<line x1="336" y1="508" x2="336.1" y2="499.8" class="t"/>
<text x="51.8" y="93.8" class="tl">4</text>
<text x="108.7" y="85.2" class="tl">2</text>
<text x="158.6" y="77.4" class="tl">0</text>
<text x="204.3" y="71.6" class="tl">−2</text>
<text x="245.2" y="65.8" class="tl">−4</text>
<text x="157.7" y="54.3" class="al">x</text>
<text x="41.5" y="121" class="tr">2.0</text>
<text x="46.8" y="202.7" class="tr">1.5</text>
<text x="50.8" y="282.5" class="tr">1.0</text>
<text x="56.1" y="357.6" class="tr">0.5</text>
<text x="60.6" y="431.4" class="tr">0.0</text>
<text x="17.2" y="290" class="al">y</text>
<text x="73" y="447.2" class="tl">1.0</text>
<text x="130.6" y="465.4" class="tl">0.5</text>
<text x="192.9" y="485.2" class="tl">0.0</text>
<text x="260.2" y="506.7" class="tl">−0.5</text>
<text x="334.5" y="529.7" class="tl">−1.0</text>
<text x="194" y="509" class="al">η</text>
<text x="150.6" y="119.2" class="pl">W<tspan class="ps" dy="4.4" dx="-2.5">1</tspan></text>
<text x="162.1" y="402.3" class="pl">Z<tspan class="ps" dy="4.4">2</tspan></text>
<text x="104.4" y="429.3" class="pl">Z<tspan class="ps" dy="4.4">4</tspan></text>
<text x="208.1" y="340.8" class="pl">Z<tspan class="ps" dy="4.4">10</tspan></text>
<text x="212.3" y="377.7" class="pl">Z<tspan class="ps" dy="4.4">6</tspan></text>
<text x="414.8" y="148.3" class="pl">W<tspan class="ps" dy="4.4" dx="-2.5">2</tspan></text>
<text x="398.3" y="226.7" class="pl">Z<tspan class="ps" dy="4.4">9</tspan></text>
<text x="409.1" y="464.9" class="pl">Z<tspan class="ps" dy="4.4">3</tspan></text>
<text x="450.4" y="433.4" class="pl">Z<tspan class="ps" dy="4.4">7</tspan></text>
<text x="361.9" y="502.3" class="pl">Z<tspan class="ps" dy="4.4">5</tspan></text>
<text x="299" y="503.3" class="pl">Z<tspan class="ps" dy="4.4">12</tspan></text>
<text x="179.1" y="181.8" class="pl">Z<tspan class="ps" dy="4.4">8</tspan></text>
<circle cx="166.8" cy="133.5" r="6.4" class="rd"/>
<circle cx="190.1" cy="150.3" r="6.4" class="rd"/>
<circle cx="174" cy="370.3" r="6.4" class="rd"/>
<circle cx="116.8" cy="398.5" r="6.4" class="rd"/>
<circle cx="224.6" cy="346.7" r="6.4" class="rd"/>
<circle cx="250.6" cy="333.2" r="6.4" class="rd"/>
<circle cx="410.1" cy="195.1" r="6.4" class="rd"/>
<circle cx="430.4" cy="162.6" r="6.4" class="rd"/>
<circle cx="421.2" cy="434.5" r="6.4" class="rd"/>
<circle cx="462.5" cy="402" r="6.4" class="rd"/>
<circle cx="373.8" cy="471.3" r="6.4" class="rd"/>
<circle cx="344.9" cy="496" r="6.4" class="rd"/>
<line x1="288.2" y1="109.2" x2="288.8" y2="408" class="dash"/>
<path d="M91.5,159.5 C92.9,157.9 96.8,153.2 100,150 C103.2,146.8 105.9,143.6 110.6,140 C115.3,136.4 122.1,131.2 128,128.5 C133.9,125.8 141,123.9 146,123.5 C151,123.1 154.5,124.3 158,126 C161.5,127.7 164.5,130.7 166.8,133.5 C169.1,136.3 170.5,139.4 172,143 C173.5,146.6 174.8,151 176,155 C177.2,159 178.9,165 179.5,167" class="o"/>
<path d="M174,370 C173.9,366 173.7,357 173.6,346 C173.5,335 173.2,322.7 173.7,304 C174.2,285.3 175.6,251.1 176.5,234 C177.4,216.9 178.4,210.6 179.2,201.2 C180,191.8 180.6,184.7 181.3,177.8 C182,170.9 182.3,167.5 183.3,160 C184.3,152.5 186.8,137.5 187.5,133" class="o"/>
<path d="M96.8,287.2 C97.9,285.9 100.3,283.2 103.3,279.5 C106.3,275.8 111,269.9 115,265 C119,260.1 123.3,255.7 127.6,250 C131.9,244.3 136.4,237.5 140.9,230.6 C145.4,223.7 150.6,214.7 154.8,208.4 C159,202.2 162.4,197.3 165.9,193.1 C169.4,188.9 172.3,185.9 175.6,183.3 C178.8,180.8 182.4,178.2 185.4,177.8 C188.4,177.4 191.6,179 193.7,180.6 C195.8,182.2 196.6,184.3 197.9,187.5 C199.2,190.7 200,194.8 201.5,200 C203,205.2 205.1,213.3 206.7,219 C208.2,224.7 209.1,228.8 210.8,234 C212.5,239.2 214.5,244.8 217,250 C219.5,255.2 222.7,259.2 226,265 C229.3,270.8 233.4,278.5 237,285 C240.6,291.5 244.3,297.3 247.8,304 C251.3,310.7 254.6,317.3 258,325 C261.4,332.7 264.3,340.8 268,350 C271.7,359.2 276.4,371.8 280,380 C283.6,388.2 287.8,395.8 289.4,399" class="o"/>
<path d="M190.2,150.8 C190.6,152.3 191.8,155 192.9,160 C194,165 195.6,173.7 197,180.6 C198.4,187.5 199.6,194.3 201.2,201.2 C202.8,208.1 205.2,217.2 206.7,222 C208.2,226.8 208.6,224.8 210,230 C211.4,235.2 212.2,247.6 214.9,253.3 C217.6,259 222.2,259 225.9,264.3 C229.6,269.6 233.2,278.3 236.9,284.9 C240.6,291.5 244,296.5 247.8,304 C251.7,311.5 256,321 260,330 C264,339 268.2,348.3 272,358 C275.8,367.7 280.1,381.2 283,388 C285.9,394.8 288.3,397.2 289.4,399" class="o"/>
<path d="M210,148 C210.5,150 211.5,154.6 212.8,160 C214.1,165.4 215.9,173.7 217.6,180.6 C219.3,187.5 221.3,193 223.1,201.2 C224.9,209.4 226.8,222.2 228.6,230 C230.4,237.8 231.8,240.2 234.1,247.8 C236.4,255.4 239.8,266.8 242.3,275.3 C244.8,283.8 246.6,290.3 249.2,298.6 C251.8,306.9 254.9,316.1 258,325 C261.1,333.9 264.3,342.8 268,352 C271.7,361.2 276.4,372.2 280,380 C283.6,387.8 287.8,395.8 289.4,399" class="o"/>
<path d="M174,370 C173.9,365.8 173.3,356 173.7,345 C174.1,334 175.3,316.3 176.5,304 C177.7,291.7 178.8,280.1 180.6,271.2 C182.4,262.3 185,257.5 187.5,250.6 C190,243.7 192.7,236.4 195.7,230 C198.7,223.6 201.4,218.6 205.3,212.2 C209.2,205.8 214.2,197.8 219,191.6 C223.8,185.4 229.1,179.7 234.1,175.1 C239.1,170.5 244.4,166.8 249.2,164.1 C254,161.4 258.7,160.2 263,159 C267.3,157.8 270.6,157.3 275,157 C279.4,156.7 283.6,156 289.4,157 C295.2,158 303.6,160.5 309.7,162.8 C315.8,165.1 321.1,167.6 326.1,171 C331.1,174.4 335.2,179 339.8,183.3 C344.4,187.7 348.5,191.4 353.5,197.1 C358.5,202.8 365,209.7 370,217.6 C375,225.5 378.9,235.3 383.4,244.6 C387.8,253.9 392.8,264.5 396.7,273.5 C400.6,282.5 403.9,290 406.7,298.6 C409.5,307.2 411.9,315.6 413.5,325 C415.1,334.4 415.3,344.7 416.3,354.9 C417.3,365.1 418.8,378.8 419.6,386 C420.4,393.2 420.8,396 421,398" class="o"/>
<path d="M191.6,242.4 C192.7,244.2 195.7,248.4 198.4,253.3 C201.1,258.2 204.8,265.6 208,272 C211.2,278.4 214.8,286.3 217.6,291.8 C220.4,297.3 221.3,298.6 225,305 C228.7,311.4 234.5,320.8 240,330 C245.5,339.2 252.2,350.8 258,360 C263.8,369.2 269.8,378.5 275,385 C280.2,391.5 287,396.7 289.4,399" class="o"/>
<path d="M289.4,399 C286.2,394.2 275.7,381.5 270,370 C264.3,358.5 258.6,341.7 255,330 C251.4,318.3 249.7,311.7 248.4,300 C247.1,288.3 247.6,271 247.3,260 C247,249 246.9,244 246.5,234 C246.1,224 245.6,210.7 245,200 C244.4,189.3 243.5,179.5 243,170 C242.5,160.5 241.8,152.2 241.8,143 C241.8,133.8 241.9,120.6 242.8,114.6 C243.7,108.6 245.6,107.4 247.2,107.2 C248.8,107 250.8,109.8 252.6,113.6 C254.4,117.4 256.1,124.1 258.1,130 C260.1,135.9 262.8,142.9 264.4,148.8 C266,154.6 266.8,159 268,165 C269.2,171 270.2,177.5 271.5,185 C272.8,192.5 274.1,201.8 275.5,210 C276.9,218.2 278.6,225.3 280,234 C281.4,242.7 282.8,251 284,262 C285.2,273 286.2,285.3 287,300 C287.8,314.7 288.1,333.5 288.5,350 C288.9,366.5 289.2,390.8 289.4,399" class="o"/>
<path d="M252.6,208 C252.6,201.7 252.7,180.8 252.6,170 C252.5,159.2 251.9,151.4 252.1,143 C252.3,134.6 252.6,124.5 253.6,119.5 C254.6,114.5 256.5,113.1 258,113.1 C259.5,113.1 261.2,116.7 262.4,119.5 C263.6,122.3 263.8,125 265.2,130 C266.6,135 269.6,144.5 270.6,149.5 C271.6,154.5 270.1,152.4 271.2,160 C272.3,167.6 274.7,182.7 277,195 C279.3,207.3 283.2,221.5 284.9,234 C286.6,246.5 286.4,254 287,270 C287.6,286 288.1,308.5 288.5,330 C288.9,351.5 289.2,387.5 289.4,399" class="o"/>
<path d="M289.4,399 C285.8,393.3 273.6,376.5 268,365 C262.4,353.5 258.6,340.8 256,330 C253.4,319.2 252.6,307.6 252.3,300 C252.1,292.4 253.9,291.7 254.5,284.5 C255.1,277.3 255.6,265.1 255.6,256.7 C255.6,248.3 254.6,239.4 254.7,234 C254.8,228.6 255.3,226.6 256,224 C256.7,221.4 257.8,218.8 258.8,218.3 C259.8,217.8 261.1,219.3 262,221 C262.9,222.7 263,223.7 264.3,228.6 C265.6,233.5 267.5,241.2 269.8,250.6 C272.1,260 276.2,276 278,284.9 C279.8,293.8 279.6,294.8 280.8,304 C282,313.2 283.6,324.2 285,340 C286.4,355.8 288.7,389.2 289.4,399" class="o"/>
<path d="M255.6,264 C255.8,262.8 255.9,258.7 256.5,257 C257.1,255.3 258.1,254.2 259,253.9 C259.9,253.7 261.1,254.5 262,255.5 C262.9,256.5 263.2,257 264.5,260 C265.8,263 267.8,266.7 270,273.4 C272.2,280.1 275.9,290.6 277.9,300 C279.9,309.4 280.6,318.3 282,330 C283.4,341.7 284.8,358.5 286,370 C287.2,381.5 288.8,394.2 289.4,399" class="o"/>
<path d="M289.4,399 C286.2,398.8 276.4,398.8 270,398 C263.6,397.2 256.8,395.7 251,394 C245.2,392.3 240.1,390.7 235,388 C229.9,385.3 224.6,381.6 220.4,377.8 C216.2,374 212.6,371.3 210,365 C207.4,358.7 205.8,347.5 205,340 C204.2,332.5 204.4,326.1 205,320 C205.6,313.9 206.7,308.4 208.4,303.4 C210.1,298.4 212.7,293.3 215,290 C217.3,286.7 219.5,284.9 222,283.5 C224.5,282.1 227.5,281.4 230,281.7 C232.5,281.9 234.6,283.3 236.8,285 C239.1,286.7 241.3,289.2 243.5,291.7 C245.7,294.2 247.6,295.3 250,300 C252.4,304.7 254.3,311.7 258,320 C261.7,328.3 267.8,340 272,350 C276.2,360 280.1,371.8 283,380 C285.9,388.2 288.3,395.8 289.4,399" class="o"/>
<path d="M356.7,90.8 C356.1,95.7 354.3,108.7 353,120 C351.7,131.3 350.2,150.7 348.8,158.7 C347.4,166.7 346.1,161.6 344.4,167.8 C342.7,174 341,183.7 338.8,195.7 C336.6,207.7 333.7,227.6 331.4,240 C329.1,252.4 327.4,260 325,270 C322.6,280 320.3,288.3 317,300 C313.7,311.7 308.7,326.7 305,340 C301.3,353.3 297.6,370.2 295,380 C292.4,389.8 290.3,395.8 289.4,399" class="o"/>
<path d="M365.5,88.8 C364.2,95.5 360,117.6 357.7,129.2 C355.4,140.8 353.7,147.5 351.8,158.6 C349.9,169.7 348.1,182.1 346.2,195.7 C344.3,209.3 342.7,227.6 340.7,240 C338.7,252.4 337.2,260 334,270 C330.8,280 325.7,288.3 321.7,300 C317.7,311.7 313.9,327.5 310,340 C306.1,352.5 301.4,365.2 298,375 C294.6,384.8 290.8,395 289.4,399" class="o"/>
<path d="M347.6,301.4 C348.5,299.8 349.9,295.7 353.1,291.8 C356.3,287.9 362.8,282.4 366.9,278 C371,273.6 374.6,270.3 377.8,265.7 C381,261.1 383,258.2 386.1,250.6 C389.2,243 393.7,227.4 396.7,220.1 C399.7,212.8 401.6,210 404,207 C406.4,204 407.9,202 411.2,202.3 C414.4,202.6 419.2,204.6 423.5,209 C427.8,213.4 432.5,222.7 436.8,229 C441.1,235.3 445.7,242.9 449.3,246.6 C452.9,250.3 457,250.4 458.5,251.2" class="o"/>
<path d="M411.2,202.3 C411.8,209.7 413.4,230.5 414.5,246.8 C415.6,263.1 417.1,284.5 417.9,300 C418.7,315.5 419.1,327.5 419.5,340 C419.9,352.5 420.2,365.3 420.5,375 C420.8,384.7 420.9,394.2 421,398" class="o"/>
<path d="M393.1,113.4 C393.9,117 395.9,126.4 398,135 C400.1,143.6 403.6,155.8 405.6,165 C407.6,174.2 409.4,185.8 410.1,190" class="o"/>
<path d="M416,201 C416.1,199.2 416.2,193.2 416.3,190 C416.4,186.8 416.2,185.3 416.6,182 C417,178.7 417.8,174 418.5,170 C419.2,166 419.4,163 421,158.2 C422.6,153.4 425,145.9 428.2,141.3 C431.4,136.7 436.2,132.7 440.2,130.5 C444.2,128.3 449.2,128.1 452.3,128 C455.4,127.9 457,128.9 458.6,130 C460.2,131.1 461.3,133.8 461.8,134.5" class="o"/>
<path d="M289.4,399 C285.8,399.8 274.6,402.5 268,404 C261.4,405.5 257.2,407 250,408.2 C242.8,409.4 233.1,410.1 225,411 C216.9,411.9 205.6,413.1 201.7,413.5" class="o"/>
<path d="M174,370 C175.9,367.3 180.6,357.3 185.4,353.6 C190.2,349.9 196.6,348.9 203.1,347.7 C209.6,346.5 216.9,346.3 224.7,346.3 C232.5,346.3 241.6,347.4 250,347.8 C258.4,348.2 266.9,347.7 275.4,349 C283.9,350.3 292.3,353.3 300.8,355.4 C309.3,357.5 317.7,360 326.2,361.7 C334.7,363.4 344.2,364.8 351.6,365.5 C359,366.2 367.4,366.1 370.6,366.2" class="o"/>
<path d="M100.4,399.8 C107,394.8 127.8,379.6 140,370 C152.2,360.4 163,350.2 173.5,342.3 C184,334.4 194.9,329.3 203,322.6 C211.1,315.9 217.1,307.2 222,302 C226.9,296.8 229.5,293.9 232.5,291.1 C235.5,288.3 238.8,286 240,285" class="o"/>
<path d="M229,232 C229.3,233.3 229.6,234.9 231.1,240 C232.6,245.1 235.6,254.9 237.8,262.3 C240,269.7 242.6,278.2 244.5,284.5 C246.4,290.8 246.8,292.4 249,300 C251.2,307.6 254.2,320 258,330 C261.8,340 266.8,348.5 272,360 C277.2,371.5 286.5,392.5 289.4,399" class="o"/>
<path d="M289.4,399 C291.1,399.4 295.7,398.6 299.7,401.5 C303.7,404.4 309.9,412.6 313.2,416.5 C316.5,420.4 317.3,421.9 319.3,425.1 C321.3,428.4 322.7,431.4 325,436 C327.3,440.6 330.8,445.9 333.1,452.6 C335.4,459.3 337.5,469.4 339,476 C340.5,482.6 341.5,489.3 342,492" class="o"/>
<path d="M349,300 C350.6,298.3 355.9,289.8 358.7,289.8 C361.4,289.8 363.4,297.1 365.5,300 C367.6,302.9 370.3,304.1 371,306.9 C371.7,309.6 370.8,313.5 369.6,316.5 C368.5,319.5 367.1,321.5 364.1,324.7 C361.1,327.9 356.2,331.8 351.8,335.7 C347.4,339.6 342.6,344.1 338,348 C333.4,351.9 328.2,354.7 324.3,359 C320.4,363.3 318.8,368.5 314.7,374 C310.6,379.5 304.2,387.8 300,392 C295.8,396.2 291.2,397.8 289.4,399" class="o"/>
<path d="M346.9,309.5 C347.5,310 347.1,310.1 350.4,312.4 C353.7,314.7 360.9,319.4 366.9,323.3 C372.8,327.2 378.3,330.9 386.1,335.7 C393.9,340.5 406.2,348 413.5,352.2 C420.8,356.4 426.1,359.1 430,360.8 C433.9,362.5 434.7,362.5 437,362.6 C439.3,362.8 441.6,362.4 443.9,361.7 C446.2,361 448.9,359.7 450.9,358.5 C452.9,357.3 455.1,355 456,354.3" class="o"/>
<path d="M174,369.5 C174.7,368.2 175.8,364.9 178,362 C180.2,359.1 183.9,354.3 187,352 C190.1,349.7 193.8,349.3 196.6,348.4 C199.4,347.5 202.7,347 203.9,346.7" class="o"/>
<path d="M289.4,399 C294.5,395.8 310.4,384.2 320,380 C329.6,375.8 337.8,372.9 346.9,373.9 C356,374.8 365.2,380.6 374.4,385.7 C383.6,390.8 397.3,401.3 401.9,404.4" class="o"/>
<path d="M289.4,399 C289.6,389.2 289.6,356.5 290.5,340 C291.4,323.5 293.5,313.1 294.9,300 C296.3,286.9 296.8,272.5 299,261.4 C301.2,250.3 305,242.9 308,233.6 C311,224.3 314.3,214.5 317.2,205.7 C320.1,196.9 323.4,186.5 325.5,180.6 C327.6,174.7 328.5,172.6 329.7,170.5 C330.9,168.4 331.3,166.9 332.5,168.1 C333.7,169.3 335.5,171.6 336.7,177.9 C337.9,184.2 339.2,196.3 339.5,205.7 C339.8,215 339.6,223.3 338.5,234 C337.4,244.7 334.7,259 333,270 C331.3,281 330,290 328.2,300 C326.4,310 324.2,321.7 322,330 C319.8,338.3 316.2,346.7 315,350" class="o"/>
<path d="M289.4,399 C289.3,389.2 288.8,356.5 289,340 C289.2,323.5 289.7,313.1 290.7,300 C291.7,286.9 292.8,272.5 294.9,261.4 C297,250.3 300.2,243.3 303.2,233.6 C306.2,223.8 309.5,212.7 313,202.9 C316.5,193.1 320.4,182.4 324.1,175 C327.8,167.6 332.3,161.9 335.3,158.4 C338.3,154.9 340.1,154.2 342.2,154.2 C344.3,154.2 346.4,154.1 347.8,158.4 C349.2,162.7 349.7,173.1 350.5,180 C351.3,186.9 352,194.3 352.5,200 C353,205.7 353.2,207.5 353.6,214.2 C354,220.9 356,230.7 354.6,240 C353.2,249.3 348.5,260 345,270 C341.5,280 337.1,290.8 333.8,300 C330.5,309.2 326.5,320.8 325,325" class="o"/>
<path d="M349,304 C350.3,300.8 354.3,290.7 357,285 C359.7,279.3 362.4,273.8 365,270 C367.6,266.2 368.9,262.6 372.4,262.3 C375.9,262 381.5,264.6 386.1,268.4 C390.7,272.2 395.7,279 399.8,284.9 C403.9,290.8 407.4,298.5 410.8,304 C414.2,309.5 417.1,313.2 420,318 C422.9,322.8 425.7,327.7 428,333 C430.3,338.3 432.8,343.8 434,350 C435.2,356.2 435.5,363.7 435,370 C434.5,376.3 432.8,383.3 431,388 C429.2,392.7 425.2,396.3 424,398" class="o"/>
<path d="M290,355 C290.4,353.8 291.3,352.1 292.7,348 C294.1,343.9 295.9,335.9 298.2,330.2 C300.5,324.5 303.3,318.5 306.5,313.7 C309.7,308.9 314.2,302.8 317.4,301.4 C320.6,300 323.4,302.3 325.7,305.5 C328,308.7 329.6,314.7 331.2,320.6 C332.8,326.6 334.4,332.3 335.3,341.2 C336.2,350.1 336.5,368.5 336.7,374" class="o"/>
<path d="M351.8,295.9 C352.7,294.8 355.3,289.1 357.3,289 C359.3,288.9 361.9,292.5 364,295 C366.1,297.5 368.7,302.5 369.6,304" class="o"/>
<path d="M289.4,399 C291.2,395.8 295.2,386.5 300,380 C304.8,373.5 312.2,365.8 318,360 C323.8,354.2 330.1,348.8 335,345 C339.9,341.2 345.5,338.3 347.6,337" class="o"/>
<path d="M289.4,399 C292,394.2 299.6,380.7 305,370 C310.4,359.3 317.3,346.7 322,335 C326.7,323.3 329.9,308.3 333,300 C336.1,291.7 339.5,287.5 340.8,285" class="o"/>
<path d="M289.4,399 C291.2,395 294.9,383.2 300,375 C305.1,366.8 312.5,357.5 320,350 C327.5,342.5 337.5,335.3 345,330 C352.5,324.7 361.7,320 365,318" class="o"/>
<path d="M336.7,374 C337.2,380 339.1,397.3 340,410 C340.9,422.7 341.5,436.3 342,450 C342.5,463.7 342.8,485 343,492" class="o"/>
<path d="M343,330 C343.2,338.3 343.7,361.7 344,380 C344.3,398.3 344.8,421.3 345,440 C345.2,458.7 345,483.3 345,492" class="o"/>
<path d="M352.8,286 C353.5,281.7 355.5,268.5 357,260 C358.5,251.5 359.8,244.6 362,235 C364.2,225.4 367.9,210.5 370,202.3 C372.1,194.1 372.7,191.1 374.4,186 C376.1,180.9 378.1,175.8 380,172 C381.9,168.2 384,164.9 386,163 C388,161.1 389.8,160.1 392.1,160.6 C394.4,161.1 397.4,163.7 400,166 C402.6,168.3 406.1,171.2 407.8,174.4 C409.5,177.6 409.6,181.6 410,185 C410.4,188.4 410.1,193.3 410.1,195" class="o"/>
<path d="M364.6,181.3 C363.8,183.6 361.6,189.4 360,195 C358.4,200.6 356.8,208.5 355,215 C353.2,221.5 351.1,228.2 349.4,234 C347.7,239.8 345.7,247.3 345,250" class="o"/>
<path d="M289.4,399 C290.7,391.7 294.3,368.2 297,355 C299.7,341.8 303.5,329.2 305.5,320 C307.5,310.8 308.4,303.3 309,300" class="o"/>
<path d="M289.4,399 C291.5,392 297.7,370.2 302,357 C306.3,343.8 312,329 315,320 C318,311 319.2,305.8 320,303" class="o"/>
<path d="M289.4,399 C292.2,392 300.4,370.2 306,357 C311.6,343.8 319.2,328.7 322.9,320 C326.6,311.3 327.1,307.5 328,305" class="o"/>
<path d="M289.4,399 C294.2,393.8 308.7,376.7 318,368 C327.3,359.3 338,351.9 345,346.9 C352,341.9 357.5,339.5 360,338" class="o"/>
<path d="M289.4,399 C293.7,396.3 305.7,386.9 315,383 C324.3,379.1 340,376.6 345,375.3" class="o"/>
<path d="M291,362 C291.7,359.2 293.3,350.7 295,345 C296.7,339.3 298.8,333.2 301,328 C303.2,322.8 305.5,317.8 308,314 C310.5,310.2 313.5,306.7 316,305 C318.5,303.3 320.6,303.3 322.8,304 C325,304.7 327.3,306 329,309 C330.7,312 331.8,316 333,322 C334.2,328 335.2,336.7 336,345 C336.8,353.3 337.7,367.5 338,372" class="o"/>
<path d="M222,305 C222.7,307.2 224.3,313.8 226,318 C227.7,322.2 230,326.3 232,330 C234,333.7 235.8,337 237.9,340 C240,343 241.8,343.5 244.4,347.8 C247,352.1 249.5,360.1 253.4,366 C257.3,371.9 262.5,377.9 267.7,382.9 C272.9,387.9 281,393.1 284.6,395.8 C288.2,398.5 288.6,398.5 289.4,399" class="o"/>
<path d="M289.4,399 C291.2,395.5 295.2,384.2 300,378 C304.8,371.8 310.5,367.2 318,362 C325.5,356.8 340.5,349.4 345,346.9" class="o" style="stroke-width:3.2"/>
<path d="M289.4,399 C290.5,394.2 293.2,379 296,370 C298.8,361 302.8,353.3 306,345 C309.2,336.7 313.5,324.2 315,320" class="o" style="stroke-width:3.2"/>
<path d="M284,230 C284.3,233.3 285.3,243.3 286,250 C286.7,256.7 287.4,263.3 288,270 C288.6,276.7 289.3,281.7 289.5,290 C289.7,298.3 289.2,308.3 289,320 C288.8,331.7 287.9,346.8 288,360 C288.1,373.2 289.2,392.5 289.4,399" class="o" style="stroke-width:3.2"/>
<polygon points="244,302 250,297 256,304 262,320 272,342 284,365 296,385 289.5,401 284.6,392 280,388 273,377.7 276,375 265.8,367.9 268,363 254.1,353 258,348 250,338 247,318" class="ah"/>
<path d="M246,331 L250,329.5 M252.5,329 L256,333" style="stroke:#f00;stroke-width:1.6;fill:none"/>
<polygon points="194.4,98.2 178.4,131.6 188,130.5 196,134.8" class="ah"/>
<polygon points="204.2,122.5 199.8,150.5 210,147 220.6,146.1" class="ah"/>
<polygon points="285.1,157 254.2,146 256.5,154 253.4,161.3" class="ah"/>
<polygon points="191.6,242.4 188.8,259.5 208,250.6" class="ah"/>
<polygon points="209.4,250.6 223.8,242.4 228.6,269.8" class="ah"/>
<polygon points="412.7,395.6 421.6,399 432.4,395.6 421.2,432.5" class="ah"/>
<polygon points="168,161.1 171.3,159 170.6,156.5 175.5,159 178,159 180.5,168.5 177,166.5 176.4,169.5 174,164.5" class="ah"/>
<polygon points="453,137.7 469.7,130.3 462,135.6" class="ah"/>
<polygon points="455.3,258.6 460.9,243.8 459.3,252" class="ah"/>
<polygon points="449,351.3 457.5,353.5 459.7,360.8 455.5,355.5" class="ah"/>
<polygon points="196.4,414 202.6,405.5 201.7,413.3 203.2,421.4" class="ah"/>
<polygon points="329.8,277 340,283 351.8,277.4 340.8,318" class="ah"/>
<polygon points="236.4,309.4 252.3,302.3 255.8,332.3" class="ah"/>
<polygon points="247,332.3 264.6,325.2 270,357" class="ah"/>
<polygon points="255.8,346.4 273.5,342.9 284,378.1" class="ah"/>
<polygon points="266.4,364 287.6,360.5 289.3,395.8" class="ah"/>
<polygon points="284,368 298,370 302,376 299,392 289.5,401" class="ah"/>
<polygon points="334.3,449.3 341.7,453.7 348,450 355.8,449.3 345,490 342.4,504.2 338,480" class="ah"/>
<polygon points="327,474.5 336,476 340,472 349,475 346,484 355.8,490.8 345,490 342,506 338,497 333,500 334,493 330,489 334,485 328,481 333,479" class="ah"/>
<polygon points="329.5,363 336,366 345.3,365 341.5,404 338.5,404" class="ah"/>
<line x1="288.2" y1="109.2" x2="288.6" y2="360" class="dash"/>
<line x1="346.6" y1="133.4" x2="48.4" y2="104.8" class="e"/>
<line x1="346.6" y1="133.4" x2="508.5" y2="92.2" class="e"/>
<line x1="346.6" y1="133.4" x2="342.3" y2="510" class="e"/>
<line x1="67.7" y1="424.1" x2="342.3" y2="510" class="e"/>
<line x1="342.3" y1="510" x2="493.6" y2="388.8" class="e"/>
<path d="M356.7,90.8 C356.1,95.7 354,111 353,120 C352,129 350.9,140.8 350.5,145" class="o"/>
<path d="M365.5,88.8 C364.2,95.5 359.4,119.8 357.7,129.2 C355.9,138.6 355.4,142.4 355,145" class="o"/>
</g>
<text x="278" y="30.8" class="ti"><tspan font-style="italic">ϵ</tspan>=1, <tspan font-style="italic">λ</tspan>=1, <tspan font-style="italic">ζ</tspan>=2</text>
<text x="782" y="30.8" class="ti"><tspan font-style="italic">ϵ</tspan>=1, <tspan font-style="italic">λ</tspan>=1, <tspan font-style="italic">ζ</tspan>=−2</text>
</svg>
</body></html>
